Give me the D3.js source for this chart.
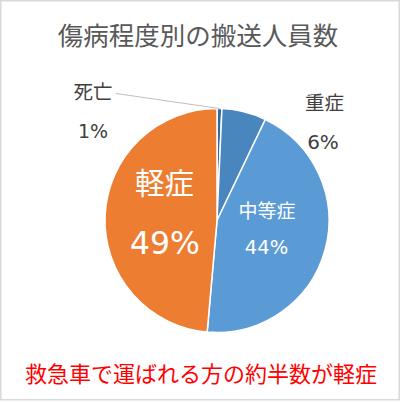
<!DOCTYPE html>
<html><head><meta charset="utf-8">
<script src="https://cdn.jsdelivr.net/npm/d3@7"></script>
<style>html,body{margin:0;padding:0;background:#fff;}svg{display:block;}</style>
</head><body>
<svg id="c" width="400" height="403"></svg>
<script>
const categories = ["死亡", "重症", "中等症", "軽症"];
const values = [0.7, 6.4, 44.3, 48.6];
const percentLabels = ["1%", "6%", "44%", "49%"];
const colors = ["#2E6BA6", "#4A86BE", "#5B9BD5", "#ED7D31"];
const title = "傷病程度別の搬送人員数";
const note = "救急車で運ばれる方の約半数が軽症";

const svg = d3.select("#c");
const font = "'Noto Sans CJK JP','Noto Sans',sans-serif";
const numFont = "'DejaVu Sans','Noto Sans',sans-serif";
svg.append("rect").attr("x",0.75).attr("y",0.75).attr("width",398.5).attr("height",399)
  .attr("fill","#fff").attr("stroke","#d9d9d9").attr("stroke-width",1.5);

svg.append("text").attr("x",198).attr("y",33).attr("text-anchor","middle").attr("dominant-baseline","central")
  .attr("font-family",font).attr("font-size",25.5).attr("fill","#595959").text(title);

const cx = 217, cy = 220.5, r = 112;
const data = categories.map((c,i)=>({c, v: values[i], p: percentLabels[i], col: colors[i]}));
const pie = d3.pie().sort(null).value(d=>d.v);
const arcs = pie(data);
const arc = d3.arc().innerRadius(0).outerRadius(r);
const g = svg.append("g").attr("transform",`translate(${cx},${cy})`);
g.selectAll("path").data(arcs).join("path").attr("d",arc)
  .attr("fill",d=>d.data.col).attr("stroke","#fff").attr("stroke-width",1.5).attr("stroke-linejoin","round");

// label positions (relative to pie center)
const labelPos = [
  {nx:-124, ny:-130, px:-124, py:-90, size:19.5, psize:19, color:"#404040"},
  {nx:107.5, ny:-119.5, px:106, py:-78.5, size:19.5, psize:20, color:"#404040"},
  {nx:50, ny:-11.5, px:49.5, py:27, size:19, psize:19.5, color:"#fff"},
  {nx:-52.5, ny:-40, px:-52, py:22.5, size:29.5, psize:31.5, color:"#fff"}
];
arcs.forEach((a,i)=>{
  const lp = labelPos[i];
  g.append("text").attr("x",lp.nx).attr("y",lp.ny).attr("text-anchor","middle").attr("dominant-baseline","central")
    .attr("font-family",font).attr("font-size",lp.size).attr("fill",lp.color).text(a.data.c);
  g.append("text").attr("x",lp.px).attr("y",lp.py).attr("text-anchor","middle").attr("dominant-baseline","central")
    .attr("font-family",numFont).attr("font-size",lp.psize).attr("fill",lp.color).text(a.data.p);
});
// leader line for 死亡
const a0 = arcs[0];
const mid = (a0.startAngle + a0.endAngle)/2;
g.append("polyline").attr("points",[[-101,-127],[r*Math.sin(mid), -r*Math.cos(mid)]].map(p=>p.join(",")).join(" "))
  .attr("fill","none").attr("stroke","#bfbfbf").attr("stroke-width",1);

svg.append("text").attr("x",201).attr("y",372).attr("text-anchor","middle").attr("dominant-baseline","central")
  .attr("font-family",font).attr("font-size",22).attr("fill","#ff0000").text(note);
</script>
</body></html>
